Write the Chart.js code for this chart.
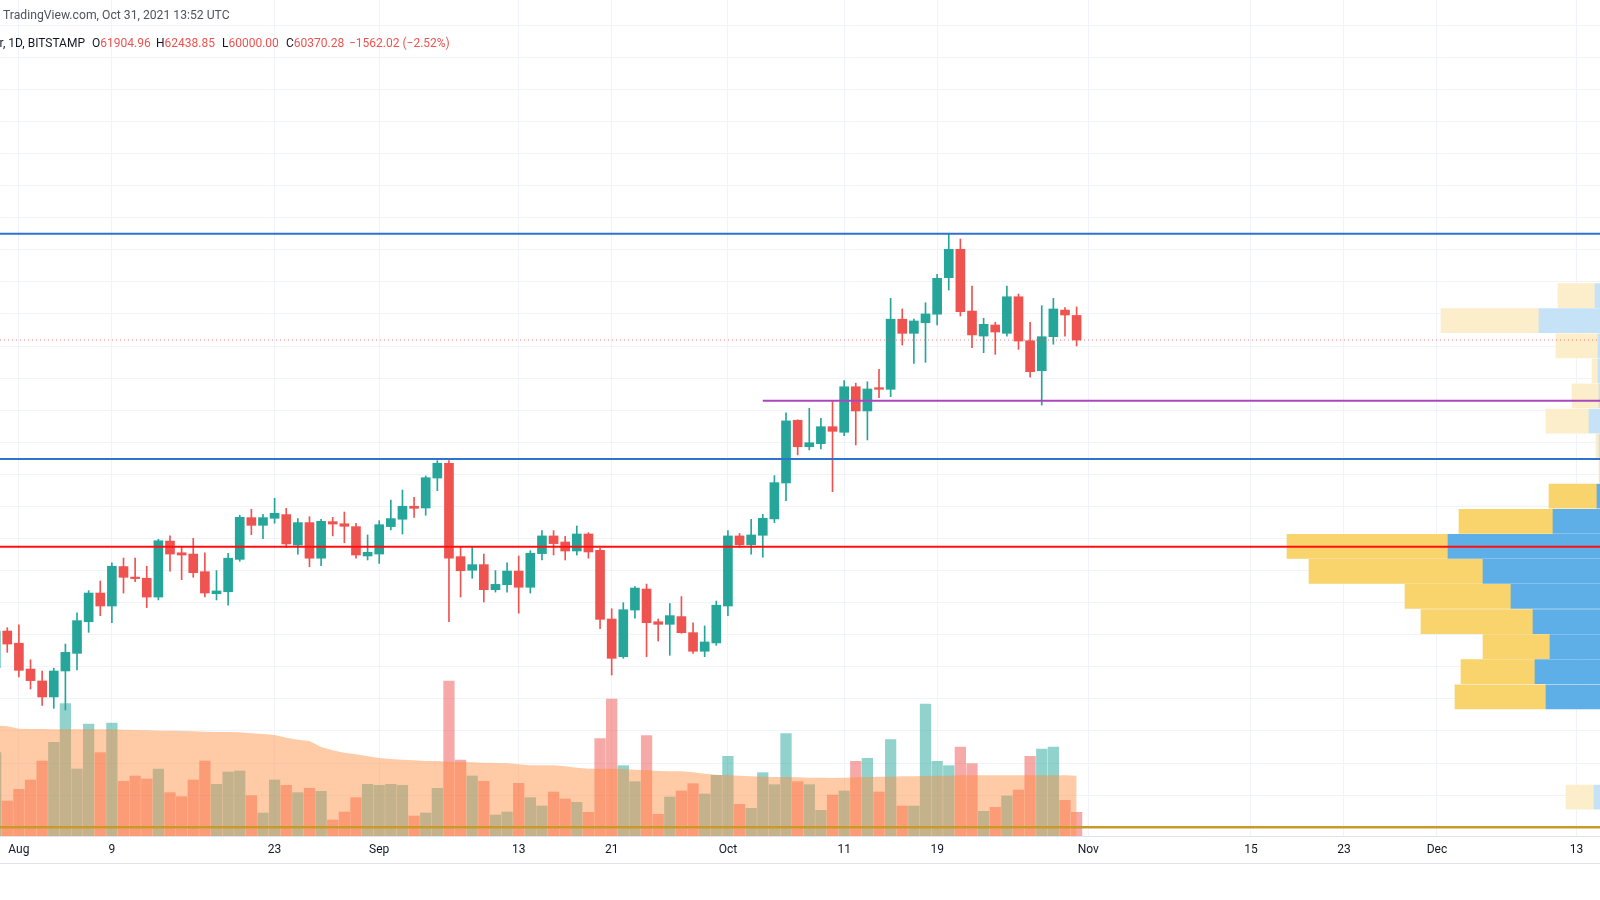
<!DOCTYPE html>
<html>
<head>
<meta charset="utf-8">
<script src="https://cdn.jsdelivr.net/npm/chart.js@4.4.1/dist/chart.umd.min.js"></script>
<style>
html, body { margin: 0; padding: 0; background: #ffffff; }
#wrap { position: relative; width: 1600px; height: 900px; overflow: hidden; }
#chart { position: absolute; left: 0; top: 0; }
.txt { position: absolute; font-family: Roboto, 'Liberation Sans', sans-serif; font-size: 12px; line-height: 14px; white-space: pre; color: #131722; }
.red { color: #ef5350; }
</style>
</head>
<body>
<div id="wrap">
  <canvas id="chart" width="1600" height="900"></canvas>
  <div class="txt" style="left:3px; top:8px; color:#50535e; font-size:12.2px;">TradingView.com, Oct 31, 2021 13:52 UTC</div>
  <div class="txt" style="right:1515px; top:36px;">Bitcoin / U.S. Dollar, 1D, BITSTAMP</div>
  <div class="txt" id="lgO" style="left:92px; top:36px;"></div>
  <div class="txt" id="lgH" style="left:156px; top:36px;"></div>
  <div class="txt" id="lgL" style="left:222px; top:36px;"></div>
  <div class="txt" id="lgC" style="left:286px; top:36px;"></div>
  <div class="txt red" id="lgChg" style="left:349px; top:36px;"></div>
</div>
<script>
// daily BTC/USD candles, Bitstamp
var dates = ['2021-07-30','2021-07-31',
  '2021-08-01','2021-08-02','2021-08-03','2021-08-04','2021-08-05','2021-08-06','2021-08-07','2021-08-08','2021-08-09','2021-08-10',
  '2021-08-11','2021-08-12','2021-08-13','2021-08-14','2021-08-15','2021-08-16','2021-08-17','2021-08-18','2021-08-19','2021-08-20',
  '2021-08-21','2021-08-22','2021-08-23','2021-08-24','2021-08-25','2021-08-26','2021-08-27','2021-08-28','2021-08-29','2021-08-30','2021-08-31',
  '2021-09-01','2021-09-02','2021-09-03','2021-09-04','2021-09-05','2021-09-06','2021-09-07','2021-09-08','2021-09-09','2021-09-10',
  '2021-09-11','2021-09-12','2021-09-13','2021-09-14','2021-09-15','2021-09-16','2021-09-17','2021-09-18','2021-09-19','2021-09-20',
  '2021-09-21','2021-09-22','2021-09-23','2021-09-24','2021-09-25','2021-09-26','2021-09-27','2021-09-28','2021-09-29','2021-09-30',
  '2021-10-01','2021-10-02','2021-10-03','2021-10-04','2021-10-05','2021-10-06','2021-10-07','2021-10-08','2021-10-09','2021-10-10',
  '2021-10-11','2021-10-12','2021-10-13','2021-10-14','2021-10-15','2021-10-16','2021-10-17','2021-10-18','2021-10-19','2021-10-20',
  '2021-10-21','2021-10-22','2021-10-23','2021-10-24','2021-10-25','2021-10-26','2021-10-27','2021-10-28','2021-10-29','2021-10-30','2021-10-31'];

var opens = [39950, 42230,
  41470, 39860, 39120, 38120, 39740, 40840, 42810, 44600, 43790, 46250, 45560, 45520, 44350, 47840, 47110, 47030, 45930, 44560, 44680, 46700,
  49300, 48820, 49260, 49490, 47590, 48990, 46770, 49050, 48920, 48740, 46910,
  47030, 48740, 49200, 50010, 49900, 51770, 52690, 46870, 46020, 46370, 44810, 45120, 45970, 44960, 47060, 48160, 47780, 47220, 48280, 47260,
  42980, 40630, 43540, 44850, 42810, 42650, 43130, 42130, 40970, 41490,
  43790, 48160, 47610, 48200, 49220, 51460, 55370, 53720, 53910, 54970, 54620, 57460, 55950, 57400, 57300, 61670, 60790, 61450, 61980, 64260,
  66030, 62180, 60620, 61310, 60790, 63070, 60330, 58460, 60580, 62240, 61904.96];

var highs = [42400, 42440,
  42610, 40440, 39740, 39910, 41420, 43370, 44750, 45350, 46490, 46780, 46780, 46270, 47950, 48170, 47450, 48010, 47110, 46000, 47080, 49450,
  49820, 49510, 50510, 49880, 49240, 49360, 49200, 49320, 49650, 48940, 48220,
  49110, 50400, 51020, 50570, 51900, 52850, 52850, 47450, 47450, 47030, 46000, 46490, 46910, 47240, 48490, 48490, 48130, 48780, 48360, 47390,
  43620, 44000, 45000, 45160, 42980, 43950, 44380, 42750, 42550, 44100,
  48490, 48320, 49200, 49510, 51920, 55840, 55400, 56120, 55490, 56590, 57840, 57680, 57770, 58550, 62970, 62310, 61680, 62700, 64470, 67030,
  66670, 63740, 61730, 61480, 63740, 63240, 61480, 62510, 62970, 62390, 62438.85];

var lows = [39000, 40900,
  39370, 38620, 37600, 37410, 37310, 39800, 42150, 43190, 42750, 44600, 45310, 43690, 44170, 45960, 45430, 45580, 44350, 44170, 43850, 46580,
  48240, 47990, 48950, 47450, 47030, 46240, 46300, 48160, 47740, 46770, 46660,
  46450, 48530, 48280, 49320, 49450, 50980, 42810, 44350, 45520, 44040, 44660, 44660, 43340, 44600, 46660, 46970, 46660, 46970, 46770, 42380,
  39490, 40530, 43030, 40630, 41610, 40720, 42090, 40840, 40630, 41340,
  43190, 47450, 47030, 46830, 48990, 50360, 53210, 53520, 53580, 50920, 54410, 53830, 54140, 56780, 56840, 60060, 58920, 58980, 61310, 63490,
  61870, 59890, 59580, 59480, 60620, 59790, 58050, 56320, 60110, 60620, 60000.00];

var closes = [42230, 41420,
  39780, 39140, 38120, 39740, 40900, 42880, 44600, 43790, 46270, 45580, 45500, 44350, 47860, 47030, 46970, 45870, 44600, 44730, 46770, 49320,
  48820, 49300, 49570, 47660, 48990, 46770, 49070, 48900, 48760, 46970, 47140,
  48860, 49240, 50010, 49880, 51790, 52690, 46780, 45990, 46370, 44810, 45140, 45970, 44960, 47080, 48160, 47680, 47220, 48280, 47160, 42960,
  40530, 43560, 44910, 42750, 42650, 43190, 42130, 40970, 41550, 43840,
  48160, 47610, 48220, 49260, 51480, 55330, 53720, 53970, 54970, 54680, 57460, 55950, 57320, 57300, 61670, 60790, 61560, 62000, 64220, 66030,
  62140, 60690, 61350, 60870, 63070, 60310, 58400, 60580, 62310, 61932.30, 60370.28];

var volumes = [6250, 2625,
  3500, 4200, 5625, 7025, 9925, 5025, 8400, 6250, 8475, 4100, 4500, 4275, 5025, 3250, 2950, 4200, 5625, 3875, 4800, 4875,
  3025, 1725, 4200, 3800, 3250, 3575, 3350, 1200, 1800, 2875, 3875,
  3800, 3875, 3800, 1500, 1725, 3575, 11625, 5700, 4500, 4100, 1575, 1800, 3950, 2875, 2250, 3300, 2775, 2525, 1775, 7300,
  10275, 5275, 4075, 7525, 1625, 2925, 3375, 3925, 3150, 4550,
  5975, 2375, 2075, 4750, 3850, 7675, 4075, 3850, 1925, 3075, 3375, 5600, 5825, 3300, 7225, 2250, 2250, 9900, 5600, 5275,
  6675, 5425, 1850, 2150, 3000, 3450, 5975, 6525, 6675, 2675, 1775];

var volumeMA = [8300, 8225,
  8050, 8025, 8025, 8000, 8000, 8000, 8000, 8000, 8000, 7975, 7950, 7925, 7900, 7900, 7875, 7850, 7825, 7800, 7800, 7775,
  7700, 7650, 7575, 7375, 7225, 7125, 6675, 6425, 6250, 6125, 5975,
  5850, 5775, 5725, 5675, 5625, 5625, 5575, 5550, 5525, 5500, 5475, 5450, 5375, 5300, 5300, 5300, 5225, 5125, 5050, 5050,
  5050, 5025, 4975, 4925, 4875, 4850, 4850, 4775, 4675, 4600,
  4550, 4525, 4475, 4450, 4425, 4425, 4400, 4375, 4375, 4350, 4375, 4400, 4425, 4450, 4450, 4475, 4475, 4500, 4525, 4525,
  4550, 4550, 4550, 4550, 4550, 4550, 4550, 4550, 4550, 4550, 4525];

// time axis labels
var tickDates = ['2021-08-01','2021-08-09','2021-08-23','2021-09-01','2021-09-13','2021-09-21','2021-10-01',
  '2021-10-11','2021-10-19','2021-11-01','2021-11-15','2021-11-23','2021-12-01','2021-12-13'];
var tickLabels = ['Aug','9','23','Sep','13','21','Oct','11','19','Nov','15','23','Dec','13'];

// drawn levels
var levelTop = 67000;
var levelMid = 52950;
var levelRed = 47480;
var levelPurple = 56590;
var levelPurpleFrom = '2021-10-04';
var levelBottom = 30000;

// volume profile (visible range), rows by price
var profilePrices = [63140, 61580, 60010, 58450, 56890, 55320, 53760, 52200, 50640, 49070, 47510, 45950, 44390, 42820, 41260, 39700, 38130, 31880];
var profileUpVol = [500, 6100, 200, 200, 100, 1100, 100, 0, 300, 4700, 15200, 11700, 8900, 6700, 5000, 6500, 5400, 600];
var profileDownVol = [3700, 9800, 4200, 600, 2700, 4300, 300, 100, 4800, 9400, 16100, 17400, 10600, 11200, 6700, 7400, 9100, 2800];
var valueAreaLow = 37000;
var valueAreaHigh = 51500;

// visible window
var xMin = -1.626, xMax = 136.03;
var yMin = 29453, yMax = 81570;
var volMax = 62700;
var profileMax = 160000;

var firstDay = Date.parse('2021-08-01');
function dayOf(s) { return (Date.parse(s) - firstDay) / 86400000; }
var xs = dates.map(dayOf);
var tickDays = tickDates.map(dayOf);

var upColor = '#26a69a', downColor = '#ef5350';
var isUp = closes.map(function (c, i) { return c >= opens[i]; });

var last = dates.length - 1;
var chg = closes[last] - closes[last - 1];
var fmt = function (v) { return v.toFixed(2); };
document.getElementById('lgO').innerHTML = 'O<span class="red">' + fmt(opens[last]) + '</span>';
document.getElementById('lgH').innerHTML = 'H<span class="red">' + fmt(highs[last]) + '</span>';
document.getElementById('lgL').innerHTML = 'L<span class="red">' + fmt(lows[last]) + '</span>';
document.getElementById('lgC').innerHTML = 'C<span class="red">' + fmt(closes[last]) + '</span>';
document.getElementById('lgChg').textContent = '\u2212' + fmt(Math.abs(chg)) + ' (\u2212' + (Math.abs(chg) / closes[last - 1] * 100).toFixed(2) + '%)';

function across(price, fromDay) {
    return [{x: fromDay, y: price}, {x: xMax, y: price}];
}
function levelLine(price, fromDay, color, width) {
    return {
        type: 'line', data: across(price, fromDay), borderColor: color, borderWidth: width,
        pointRadius: 0, fill: false, xAxisID: 'x', yAxisID: 'y', order: 0
    };
}
var inVA = profilePrices.map(function (p) { return p > valueAreaLow && p < valueAreaHigh; });

Chart.defaults.font.family = "Roboto, 'Liberation Sans', sans-serif";

// bottom border of the time axis
var axisBottomLine = {
    id: 'axisBottomLine',
    afterDraw: function (chart) {
        var c = chart.ctx, s = chart.scales.x;
        c.save();
        c.strokeStyle = '#e0e3eb';
        c.lineWidth = 1;
        c.beginPath();
        c.moveTo(0, Math.round(s.bottom) + 0.5);
        c.lineTo(chart.width, Math.round(s.bottom) + 0.5);
        c.stroke();
        c.restore();
    }
};

var ctx = document.getElementById('chart');
var chart = new Chart(ctx, {
    type: 'bar',
    data: {
        datasets: [
            levelLine(levelTop, xMin, '#2e73cf', 2),
            levelLine(levelMid, xMin, '#2e73cf', 2),
            levelLine(levelRed, xMin, '#ff1010', 2),
            levelLine(levelPurple, dayOf(levelPurpleFrom), '#ab47bc', 2),
            levelLine(levelBottom, xMin, '#c9992a', 2.5),
            {
                type: 'line', data: across(closes[last], xMin), borderColor: 'rgba(239,83,80,0.75)',
                borderWidth: 1, borderDash: [1, 3], pointRadius: 0, fill: false,
                xAxisID: 'x', yAxisID: 'y', order: 0
            },
            {
                // candle bodies
                data: xs.map(function (x, i) { return {x: x, y: [opens[i], closes[i]]}; }),
                backgroundColor: isUp.map(function (u) { return u ? upColor : downColor; }),
                borderWidth: 0, barThickness: 9, maxBarThickness: 9, minBarLength: 1.5,
                grouped: false, xAxisID: 'x', yAxisID: 'y', order: 1
            },
            {
                // wicks
                data: xs.map(function (x, i) { return {x: x, y: [lows[i], highs[i]]}; }),
                backgroundColor: isUp.map(function (u) { return u ? upColor : downColor; }),
                borderWidth: 0, barThickness: 1, maxBarThickness: 1,
                grouped: false, xAxisID: 'x', yAxisID: 'y', order: 2
            },
            {
                // volume moving average
                type: 'line',
                data: xs.map(function (x, i) { return {x: x, y: volumeMA[i]}; }),
                borderWidth: 0, pointRadius: 0, tension: 0,
                backgroundColor: 'rgba(255,140,60,0.45)', fill: 'origin',
                xAxisID: 'x', yAxisID: 'yv', order: 3
            },
            {
                // volume
                data: xs.map(function (x, i) { return {x: x, y: volumes[i]}; }),
                backgroundColor: isUp.map(function (u) { return u ? 'rgba(38,166,154,0.5)' : 'rgba(239,83,80,0.5)'; }),
                borderWidth: 0, barThickness: 10.6, maxBarThickness: 10.6,
                grouped: false, xAxisID: 'x', yAxisID: 'yv', order: 4
            },
            {
                // profile: up volume, from the right edge
                indexAxis: 'y',
                data: profilePrices.map(function (p, i) { return {y: p, x: [0, profileUpVol[i]]}; }),
                backgroundColor: inVA.map(function (v) { return v ? '#5eaee8' : '#c6e2f7'; }),
                borderWidth: 0, barThickness: 24, maxBarThickness: 24,
                grouped: false, xAxisID: 'xp', yAxisID: 'yp', order: 5
            },
            {
                // profile: down volume
                indexAxis: 'y',
                data: profilePrices.map(function (p, i) { return {y: p, x: [profileUpVol[i], profileUpVol[i] + profileDownVol[i]]}; }),
                backgroundColor: inVA.map(function (v) { return v ? '#f9d36b' : '#fdeecb'; }),
                borderWidth: 0, barThickness: 24, maxBarThickness: 24,
                grouped: false, xAxisID: 'xp', yAxisID: 'yp', order: 5
            }
        ]
    },
    options: {
        animation: false,
        responsive: false,
        layout: { padding: { left: 0, right: 0, top: 0, bottom: 37 } },
        plugins: { legend: { display: false }, tooltip: { enabled: false } },
        scales: {
            x: {
                type: 'linear', position: 'bottom', min: xMin, max: xMax, offset: false,
                grid: { color: '#f0f3fa', drawTicks: false, offset: false },
                border: { display: true, color: '#e0e3eb' },
                ticks: {
                    padding: 7, color: '#131722', font: { size: 12 }, autoSkip: false, maxRotation: 0,
                    callback: function (v) {
                        var k = tickDays.indexOf(v);
                        return k >= 0 ? tickLabels[k] : '';
                    }
                },
                afterBuildTicks: function (s) { s.ticks = tickDays.map(function (d) { return {value: d}; }); },
                afterFit: function (s) { s.height = 27; }
            },
            y: {
                type: 'linear', position: 'right', min: yMin, max: yMax, offset: false,
                grid: { color: '#f0f3fa', drawTicks: false, offset: false },
                border: { display: false },
                ticks: { display: false },
                afterBuildTicks: function (s) {
                    var t = [];
                    for (var v = 30000; v <= 80000; v += 2000) t.push({value: v});
                    s.ticks = t;
                },
                afterFit: function (s) { s.width = 0; }
            },
            yv: { type: 'linear', display: false, min: 0, max: volMax, offset: false },
            yp: { type: 'linear', axis: 'y', display: false, min: yMin, max: yMax, offset: false },
            xp: { type: 'linear', axis: 'x', display: false, min: 0, max: profileMax, reverse: true, offset: false }
        }
    },
    plugins: [axisBottomLine]
});
</script>
</body>
</html>
